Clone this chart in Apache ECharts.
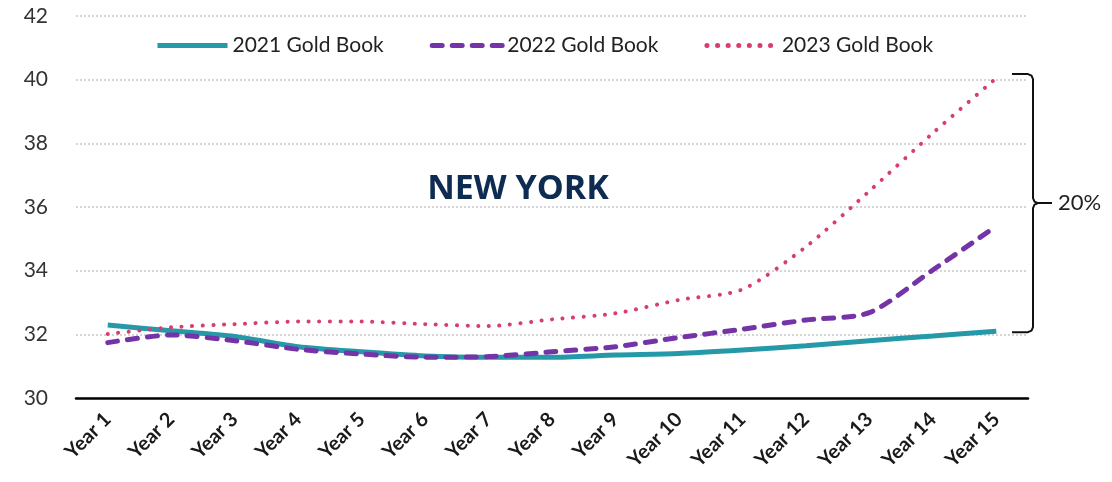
<!DOCTYPE html>
<html style="height: 100%">
<head>
    <meta charset="utf-8">
</head>
<body style="height: 100%; margin: 0; background: #fff">
<div id="container" style="width: 1112px; height: 482px"></div>
<script type="text/javascript" src="https://cdn.jsdelivr.net/npm/echarts@6/dist/echarts.min.js"></script>
<script type="text/javascript">
var years = ['Year 1', 'Year 2', 'Year 3', 'Year 4', 'Year 5', 'Year 6', 'Year 7', 'Year 8',
    'Year 9', 'Year 10', 'Year 11', 'Year 12', 'Year 13', 'Year 14', 'Year 15'];
var book2021 = [32.29, 32.11, 31.93, 31.61, 31.45, 31.32, 31.28, 31.28, 31.35, 31.40, 31.51, 31.64, 31.80, 31.95, 32.10];
var book2022 = [31.74, 31.98, 31.80, 31.53, 31.38, 31.28, 31.30, 31.45, 31.61, 31.90, 32.16, 32.45, 32.68, 34.02, 35.40];
var book2023 = [32.01, 32.22, 32.32, 32.40, 32.40, 32.32, 32.26, 32.47, 32.66, 33.08, 33.41, 34.75, 36.50, 38.32, 40.05];
var spreadLabel = '20%';

var dom = document.getElementById('container');
var myChart = echarts.init(dom);
var font = 'Lato, "Open Sans", sans-serif';

var option = {
    backgroundColor: '#fff',
    animation: false,
    textStyle: { fontFamily: font },
    legend: {
        top: 30,
        left: 150,
        itemWidth: 70,
        itemHeight: 20,
        itemGap: 46,
        itemStyle: { opacity: 0 },
        lineStyle: { width: 5 },
        textStyle: { fontSize: 21, color: '#222', fontFamily: font },
        data: ['2021 Gold Book', '2022 Gold Book', '2023 Gold Book']
    },
    grid: { left: 76, right: 84, top: 16, bottom: 84 },
    xAxis: {
        type: 'category',
        data: years,
        boundaryGap: true,
        axisLine: { lineStyle: { color: '#000', width: 2.5 } },
        axisTick: { show: false },
        axisLabel: {
            rotate: 45,
            fontSize: 20,
            fontWeight: 'bold',
            color: '#1a1a1a',
            margin: 18,
            interval: 0
        }
    },
    yAxis: {
        type: 'value',
        min: 30,
        max: 42,
        interval: 2,
        axisLine: { show: false },
        axisTick: { show: false },
        axisLabel: { fontSize: 21, color: '#333', margin: 28 },
        splitLine: { lineStyle: { color: '#c8c8c8', type: [2, 2], width: 1.5 } }
    },
    series: [
        {
            name: '2021 Gold Book',
            type: 'line',
            data: book2021,
            symbol: 'none',
            smooth: 0.25,
            lineStyle: { color: '#2599a8', width: 5 },
            itemStyle: { color: '#2599a8' }
        },
        {
            name: '2022 Gold Book',
            type: 'line',
            data: book2022,
            symbol: 'none',
            smooth: 0.25,
            lineStyle: { color: '#7434a8', width: 5, type: [10, 10], cap: 'round' },
            itemStyle: { color: '#7434a8' }
        },
        {
            name: '2023 Gold Book',
            type: 'line',
            data: book2023,
            symbol: 'none',
            smooth: 0.25,
            lineStyle: { color: '#d83e6c', width: 4, type: [0.1, 10.5], cap: 'round' },
            itemStyle: { color: '#d83e6c' }
        }
    ]
};

myChart.setOption(option);

// brace showing the spread between 2021 and 2023 at the last year
var last = years.length - 1;
var hiPt = myChart.convertToPixel({ seriesIndex: 2 }, [last, book2023[last]]);
var loPt = myChart.convertToPixel({ seriesIndex: 0 }, [last, book2021[last]]);
var bx = 1033;
var yTop = hiPt[1] - 4;
var yBot = loPt[1] + 1;
var mid = (yTop + yBot) / 2;
var braceStyle = { stroke: '#111', lineWidth: 2, fill: null, lineJoin: 'round' };
myChart.setOption({
    graphic: [
        {
            type: 'text',
            style: {
                text: 'NEW YORK',
                x: 518,
                y: 189,
                textAlign: 'center',
                textVerticalAlign: 'middle',
                fontSize: 34,
                fontWeight: 'bold',
                fontFamily: '"Open Sans", Lato, sans-serif',
                fill: '#0e2c52'
            }
        },
        {
            type: 'polyline',
            shape: {
                points: [[bx - 21, yTop], [bx - 5, yTop], [bx - 1.5, yTop + 1.5], [bx, yTop + 5],
                    [bx, mid - 5], [bx + 1.5, mid - 1.5], [bx + 5, mid], [bx + 19, mid]]
            },
            style: braceStyle
        },
        {
            type: 'polyline',
            shape: {
                points: [[bx + 5, mid], [bx + 1.5, mid + 1.5], [bx, mid + 5],
                    [bx, yBot - 5], [bx - 1.5, yBot - 1.5], [bx - 5, yBot], [bx - 21, yBot]]
            },
            style: braceStyle
        },
        {
            type: 'text',
            style: {
                text: spreadLabel,
                x: bx + 25,
                y: mid,
                textVerticalAlign: 'middle',
                fontSize: 22,
                fontFamily: font,
                fill: '#222'
            }
        }
    ]
});
</script>
</body>
</html>
